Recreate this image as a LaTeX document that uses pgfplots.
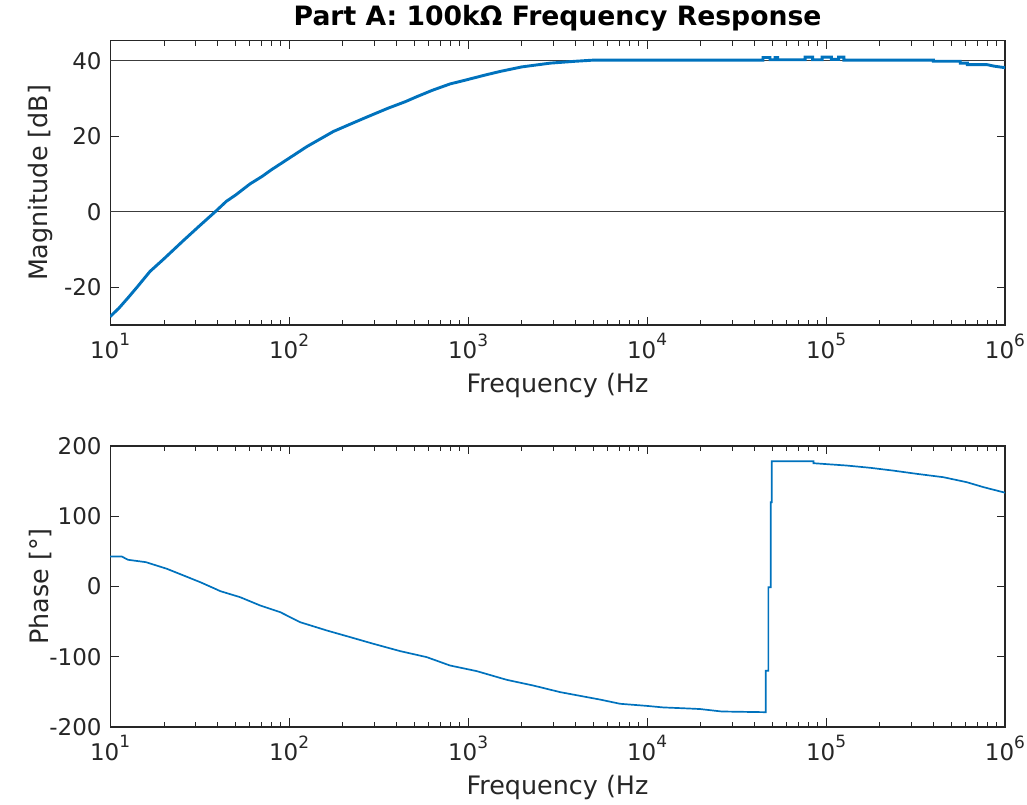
\documentclass[border=0pt]{standalone}
\usepackage{fontspec}
\setmainfont{DejaVu Sans}
\usepackage{pgfplots}
\pgfplotsset{compat=1.18}
\definecolor{mblue}{RGB}{0,114,189}
\definecolor{axgray}{RGB}{38,38,38}
\newcommand{\tp}[1]{10\raisebox{0.55em}{\fontsize{7}{8}\selectfont #1}}
\pgfplotsset{
 mystyle/.style={
  scale only axis, width=369.8pt, xmin=10, xmax=1e6,
  axis line style={axgray, line width=0.5pt},
  every tick/.style={axgray, line width=0.4pt},
  major tick length=3.5pt, minor tick length=2pt,
  xtick={10,100,1000,10000,100000,1000000},
  xticklabels={\tp{1},\tp{2},\tp{3},\tp{4},\tp{5},\tp{6}},
  tick label style={font=\fontsize{9.5}{11}\selectfont, text=axgray},
  label style={font=\fontsize{10.5}{12}\selectfont, text=axgray},
  xlabel={Frequency (Hz},
 }
}
\begin{document}
\begin{tikzpicture}
\path[use as bounding box] (0,0) rectangle (424.4pt,332.6pt);
% top axis
\begin{semilogxaxis}[mystyle, at={(45.5pt,198.3pt)}, anchor=south west, height=117.4pt,
  ymin=-30, ymax=45.3, ytick={-20,0,20,40}, yticklabels={-20,0,20,40},
  ylabel={Magnitude [dB]},
  xlabel style={at={(axis description cs:0.5,-0.213)}, anchor=center},
  ylabel style={at={(axis description cs:-0.078,0.5)}, anchor=center},
  title={Part A: 100kΩ Frequency Response},
  title style={at={(axis description cs:0.5,1.03)}, anchor=center, font=\fontsize{11}{13}\selectfont\bfseries, text=black},
]
\addplot[color=axgray!90, line width=0.5pt, forget plot] coordinates {(10,0) (1000000,0)};
\addplot[color=axgray!90, line width=0.5pt, forget plot] coordinates {(10,40) (1000000,40)};
\addplot[mblue, line width=1.2pt] coordinates {
(10,-27.8) (11.22,-25.5) (12.59,-22.8) (14.13,-20.0) (16.71,-15.8) (19.95,-12.5)
(25.70,-7.6) (31.62,-3.7) (38.64,0) (44.67,2.8) (50.12,4.4) (60.53,7.4)
(70.79,9.4) (79.43,11.1) (100,14.2) (125.9,17.3) (177.0,21.3) (223.9,23.4)
(271.6,25.1) (354.8,27.4) (446.7,29.2) (516.4,30.5) (631.0,32.2) (794.3,33.9)
(984,35.0) (1259,36.3) (1510,37.2) (1995,38.4) (2871,39.4) (3981,39.9)
(5012,40.2) (44460,40.2) (44460,40.9) (48640,40.9) (48640,40.3) (51880,40.3)
(51880,40.9) (53700,40.9) (53700,40.3) (76380,40.3) (76380,41.0) (84140,41.0)
(84140,40.3) (95060,40.3) (95060,41.0) (107200,41.0) (107200,40.4) (117500,40.4)
(117500,41.0) (125900,41.0) (125900,40.2) (398100,40.2) (398100,39.9) (562300,39.9)
(562300,39.4) (616600,39.4) (616600,39.0) (794300,39.0) (870000,38.6) (1000000,38.2)
};
\end{semilogxaxis}
% bottom axis
\begin{semilogxaxis}[mystyle, at={(45.5pt,32.2pt)}, anchor=south west, height=116.1pt,
  ymin=-200, ymax=200, ytick={-200,-100,0,100,200}, yticklabels={-200,-100,0,100,200},
  ylabel={Phase [°]},
  xlabel style={at={(axis description cs:0.5,-0.215)}, anchor=center},
  ylabel style={at={(axis description cs:-0.078,0.5)}, anchor=center},
]
\addplot[mblue, line width=0.7pt] coordinates {
(10,42.7) (11.61,42.7) (12.59,38) (15.85,34.6) (20.75,25.2) (25.70,15.7)
(31.84,6.2) (38.64,-3.3) (41.21,-6.6) (53.21,-15.2) (68.87,-27) (89.13,-36.5)
(115.1,-50.8) (162.2,-62.6) (219.3,-72.1) (295.8,-81.6) (416.9,-92) (587.5,-100.6)
(792.5,-112.5) (1117,-120.5) (1644,-132.9) (2312,-141) (3266,-150.4) (4603,-157.5)
(5458,-161) (7063,-167) (9954,-170) (12300,-172.2) (16290,-173.5) (19770,-174.5)
(26120,-178) (46030,-179) (46030,-120) (47640,-120) (47640,-1) (49090,-1)
(49090,120) (49770,120) (49770,178.4) (85110,178.4) (85110,175.5) (130300,172.2)
(176200,169) (237100,165) (320600,160.4) (451900,155.6) (610900,148.5)
(758600,141.4) (977200,134.2) (1000000,133.5)
};
\end{semilogxaxis}
\end{tikzpicture}
\end{document}
